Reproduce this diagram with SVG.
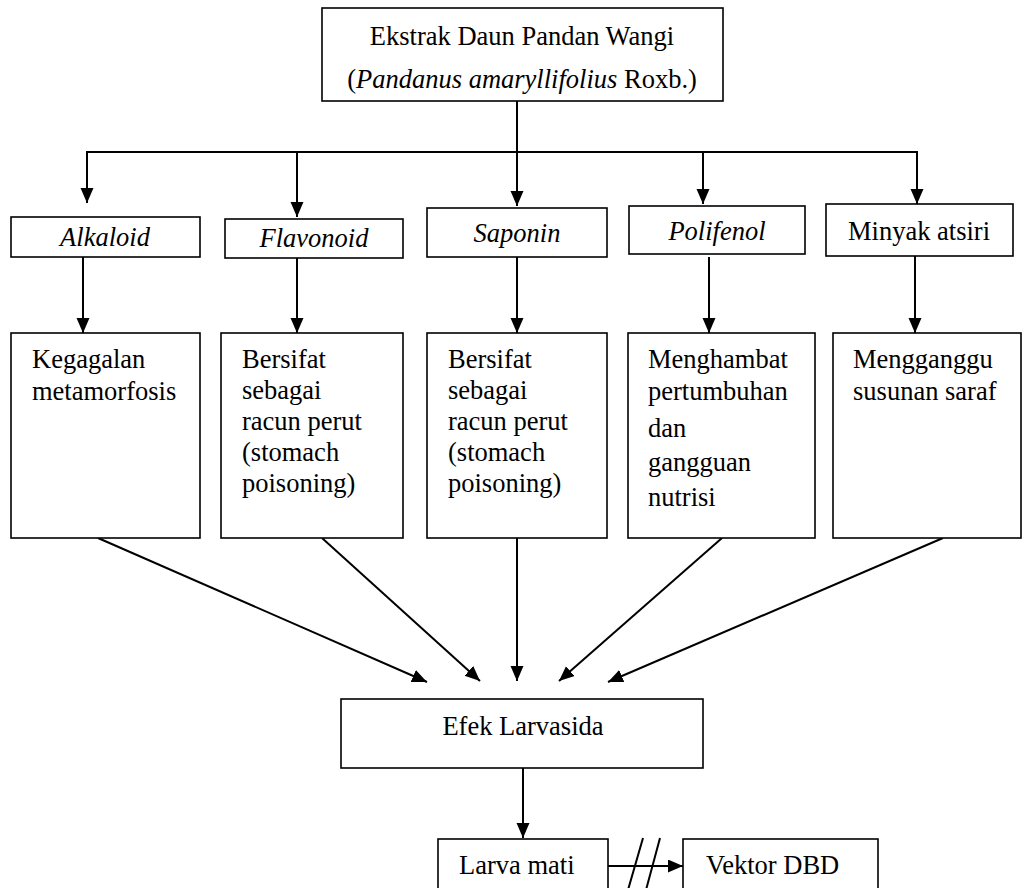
<svg xmlns="http://www.w3.org/2000/svg" width="1023" height="888" viewBox="0 0 1023 888">
<style>
.box{fill:#fff;stroke:#000;stroke-width:1.6}
text{font-family:'Liberation Serif','Times New Roman',Tinos,'DejaVu Serif',serif;font-size:26.5px;fill:#000}
.i{font-style:italic}
.c{text-anchor:middle}
.ln{fill:none;stroke:#000;stroke-width:2}
.ar{fill:none;stroke:#000;stroke-width:2;marker-end:url(#ah)}
</style>
<defs>
<marker id="ah" markerUnits="userSpaceOnUse" markerWidth="16" markerHeight="14" refX="15" refY="6.5" orient="auto" viewBox="0 0 16 14">
<path d="M0,0 L15,6.5 L0,13 z" fill="#000"/>
</marker>
</defs>
<rect width="1023" height="888" fill="#fff"/>
<g id="connectors">
<line class="ln" x1="517" y1="101" x2="517" y2="152"/>
<line class="ln" x1="86" y1="152" x2="918" y2="152"/>
<line class="ar" x1="87" y1="152" x2="87" y2="203"/>
<line class="ar" x1="297" y1="152" x2="297" y2="217"/>
<line class="ar" x1="517" y1="152" x2="517" y2="206"/>
<line class="ar" x1="703" y1="152" x2="703" y2="204"/>
<line class="ar" x1="917" y1="152" x2="917" y2="204"/>
<line class="ar" x1="83" y1="257" x2="83" y2="333"/>
<line class="ar" x1="297" y1="258" x2="297" y2="333"/>
<line class="ar" x1="517" y1="257" x2="517" y2="333"/>
<line class="ar" x1="709" y1="257" x2="709" y2="333"/>
<line class="ar" x1="915" y1="256" x2="915" y2="333"/>
<line class="ar" x1="98" y1="538" x2="427" y2="682"/>
<line class="ar" x1="322" y1="538" x2="480" y2="681"/>
<line class="ar" x1="517" y1="538" x2="517" y2="681"/>
<line class="ar" x1="722" y1="538" x2="559" y2="681"/>
<line class="ar" x1="943" y1="538" x2="608" y2="682"/>
<line class="ar" x1="523" y1="768" x2="523" y2="838"/>
<line class="ar" x1="608" y1="866" x2="683" y2="866"/>
<line class="ln" x1="628" y1="890" x2="643" y2="838"/>
<line class="ln" x1="646" y1="890" x2="660" y2="838"/>
</g>
<g id="top">
<rect class="box" x="322" y="8" width="401" height="93"/>
<text class="c" x="522" y="45">Ekstrak Daun Pandan Wangi</text>
<text class="c" x="522" y="88">(<tspan class="i">Pandanus amaryllifolius</tspan> Roxb.)</text>
</g>
<g id="alkaloid">
<rect class="box" x="11" y="217" width="189" height="40"/>
<text class="i c" x="105" y="246">Alkaloid</text>
</g>
<g id="flavonoid">
<rect class="box" x="225" y="219" width="178" height="39"/>
<text class="i c" x="314" y="247">Flavonoid</text>
</g>
<g id="saponin">
<rect class="box" x="427" y="208" width="180" height="49"/>
<text class="i c" x="517" y="242">Saponin</text>
</g>
<g id="polifenol">
<rect class="box" x="629" y="206" width="176" height="48"/>
<text class="i c" x="717" y="240">Polifenol</text>
</g>
<g id="minyak">
<rect class="box" x="826" y="204" width="187" height="52"/>
<text class="c" x="919" y="240">Minyak atsiri</text>
</g>
<g id="effect-alkaloid">
<rect class="box" x="11" y="333" width="189" height="205"/>
<text x="32" y="368">Kegagalan</text>
<text x="32" y="400">metamorfosis</text>
</g>
<g id="effect-flavonoid">
<rect class="box" x="221" y="333" width="182" height="205"/>
<text x="242" y="368">Bersifat</text>
<text x="242" y="399">sebagai</text>
<text x="242" y="430">racun perut</text>
<text x="242" y="461">(stomach</text>
<text x="242" y="492">poisoning)</text>
</g>
<g id="effect-saponin">
<rect class="box" x="427" y="333" width="180" height="205"/>
<text x="448" y="368">Bersifat</text>
<text x="448" y="399">sebagai</text>
<text x="448" y="430">racun perut</text>
<text x="448" y="461">(stomach</text>
<text x="448" y="492">poisoning)</text>
</g>
<g id="effect-polifenol">
<rect class="box" x="628" y="333" width="187" height="205"/>
<text x="648" y="368">Menghambat</text>
<text x="648" y="400">pertumbuhan</text>
<text x="648" y="437">dan</text>
<text x="648" y="471">gangguan</text>
<text x="648" y="506">nutrisi</text>
</g>
<g id="effect-minyak">
<rect class="box" x="833" y="333" width="188" height="205"/>
<text x="853" y="368">Mengganggu</text>
<text x="853" y="400">susunan saraf</text>
</g>
<g id="efek">
<rect class="box" x="341" y="699" width="362" height="69"/>
<text class="c" x="523" y="735">Efek Larvasida</text>
</g>
<g id="larva">
<rect class="box" x="438" y="839" width="170" height="70"/>
<text x="459" y="874">Larva mati</text>
</g>
<g id="vektor">
<rect class="box" x="683" y="839" width="195" height="70"/>
<text x="706" y="874">Vektor DBD</text>
</g>
</svg>
